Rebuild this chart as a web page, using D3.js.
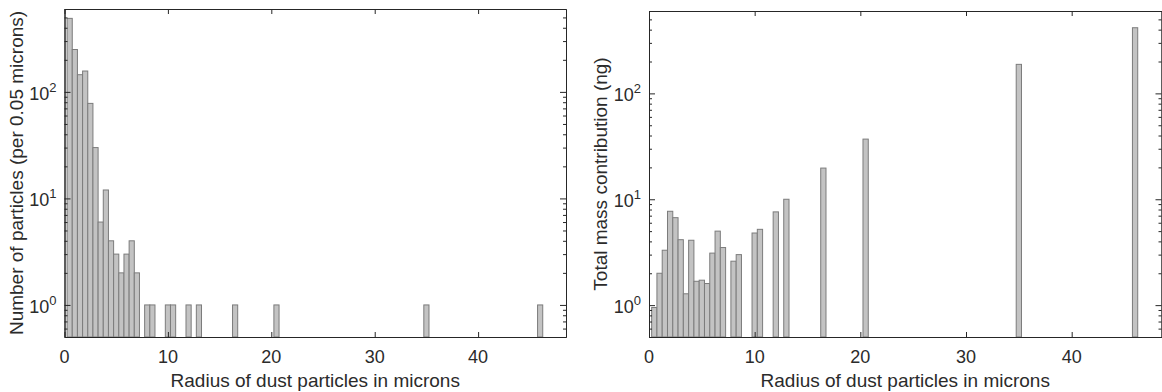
<!DOCTYPE html>
<html>
<head>
<meta charset="utf-8">
<script src="https://cdn.jsdelivr.net/npm/d3@7"></script>
<style>
  body { margin: 0; background: #fff; }
  svg text { font-family: Arial, "Liberation Sans", Helvetica, sans-serif; fill: #2b2b2b; }
</style>
</head>
<body>
<svg id="chart" width="1162" height="392"></svg>
<script>
// bin centres (microns), shared by both panels
const radiusBins = [0.5, 1.0, 1.5, 2.0, 2.5, 3.0, 3.5, 4.0, 4.5, 5.0, 5.5, 6.0, 6.5, 7.0,
  8.0, 8.5, 10.0, 10.5, 12.0, 13.0, 16.5, 20.5, 35.0, 46.0];
// particles per bin
const particleCounts = [490, 250, 145, 157, 78, 30, 6, 12, 4, 3, 2, 3, 4, 2,
  1, 1, 1, 1, 1, 1, 1, 1, 1, 1];
// total mass per bin (ng)
const massContribution = [0.95, 2.0, 3.3, 7.7, 6.7, 4.15, 1.28, 4.1, 1.68, 1.72, 1.6, 3.1, 5.0, 3.5,
  2.6, 3.0, 4.8, 5.2, 7.6, 10.0, 19.7, 37.0, 188, 417];
const xTicks = [0, 10, 20, 30, 40];
const yTickExps = [0, 1, 2];
const xLabel = "Radius of dust particles in microns";

const binWidth = 0.5;
const svg = d3.select("#chart");

function drawPanel(opts) {
  let x = d3.scaleLinear().domain([0, 48.5]).range([opts.left, opts.right]);
  let y = d3.scaleLog().domain([0.5, 600]).range([opts.bottom, opts.top]);
  let g = svg.append("g");

  // bars
  g.selectAll(".bar")
    .data(opts.values.map((v, i) => ({ r: radiusBins[i], v: v })))
    .enter().append("rect")
    .attr("class", "bar")
    .attr("x", d => x(d.r - binWidth / 2))
    .attr("width", d => x(d.r + binWidth / 2) - x(d.r - binWidth / 2))
    .attr("y", d => y(d.v))
    .attr("height", d => y.range()[0] - y(d.v))
    .attr("fill", "#c3c3c3")
    .attr("stroke", "#7c7c7c")
    .attr("stroke-width", 1);

  let majors = yTickExps.map(e => Math.pow(10, e));
  let minors = [];
  [-1, 0, 1, 2].forEach(e => {
    for (let k = 2; k <= 9; k++) {
      let v = k * Math.pow(10, e);
      if (v >= 0.5 && v <= 600) minors.push(v);
    }
  });

  // ticks pointing inwards on all four sides
  let axes = [
    [d3.axisBottom(x).tickValues(xTicks).tickSize(-5), "translate(0," + opts.bottom + ")"],
    [d3.axisTop(x).tickValues(xTicks).tickSize(-5), "translate(0," + opts.top + ")"],
    [d3.axisLeft(y).tickValues(majors).tickSize(-6), "translate(" + opts.left + ",0)"],
    [d3.axisLeft(y).tickValues(minors).tickSize(-3), "translate(" + opts.left + ",0)"],
    [d3.axisRight(y).tickValues(majors).tickSize(-6), "translate(" + opts.right + ",0)"],
    [d3.axisRight(y).tickValues(minors).tickSize(-3), "translate(" + opts.right + ",0)"]
  ];
  axes.forEach(a => {
    let ag = g.append("g").attr("transform", a[1]).call(a[0].tickFormat("").tickSizeOuter(0));
    ag.select(".domain").attr("stroke", "#262626");
    ag.selectAll(".tick line").attr("stroke", "#262626");
  });

  // x tick labels
  g.selectAll(".xlab")
    .data(xTicks)
    .enter().append("text")
    .attr("x", d => x(d))
    .attr("y", opts.bottom + 26)
    .attr("text-anchor", "middle")
    .style("font-size", "18px")
    .text(d => d);

  // y tick labels 10^n
  let yl = g.selectAll(".ylab")
    .data(yTickExps)
    .enter().append("text")
    .attr("x", opts.left - 8)
    .attr("y", d => y(Math.pow(10, d)) + 8)
    .attr("text-anchor", "end")
    .style("font-size", "18px");
  yl.append("tspan").text("10");
  yl.append("tspan").attr("dy", -8).style("font-size", "13px").text(d => d);

  g.append("text")
    .attr("x", (opts.left + opts.right) / 2)
    .attr("y", 387)
    .attr("text-anchor", "middle")
    .style("font-size", "19px")
    .text(xLabel);

  g.append("text")
    .attr("transform", "translate(" + opts.ylabelX + "," + (opts.top + opts.bottom) / 2 + ") rotate(-90)")
    .attr("text-anchor", "middle")
    .style("font-size", "19px")
    .text(opts.ylabel);
}

drawPanel({
  left: 64.5, right: 566, top: 9, bottom: 337,
  values: particleCounts,
  ylabel: "Number of particles (per 0.05 microns)",
  ylabelX: 23
});

drawPanel({
  left: 649, right: 1161.5, top: 11, bottom: 337,
  values: massContribution,
  ylabel: "Total mass contribution (ng)",
  ylabelX: 607
});
</script>
</body>
</html>
